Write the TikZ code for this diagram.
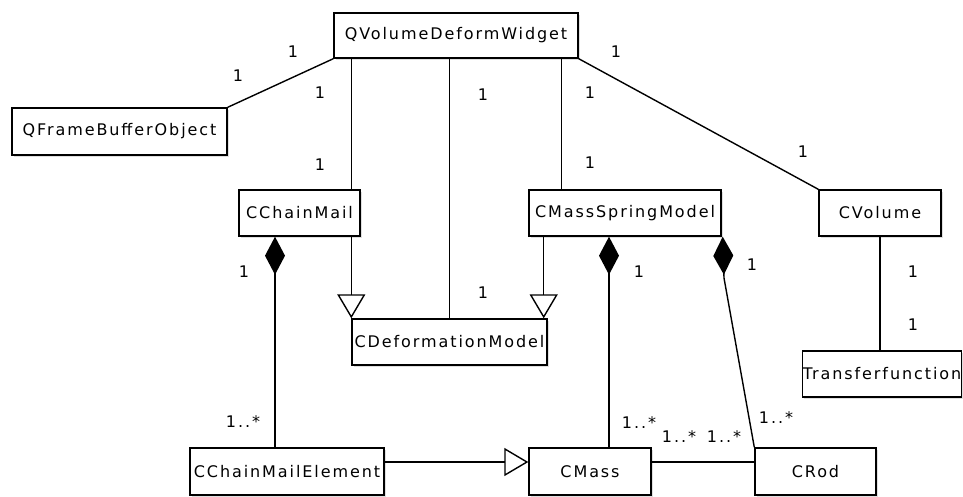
\documentclass[tikz,border=0pt]{standalone}
\usepackage{fontspec}
\newfontfamily\umlfont[LetterSpace=12]{DejaVu Sans}
\usetikzlibrary{arrows.meta,shadows}

\begin{document}
\begin{tikzpicture}[x=1pt, y=-1pt, line width=1.4pt,
    class/.style={draw, fill=white, inner sep=0pt,
      font=\fontsize{16}{19}\umlfont,
      drop shadow={shadow xshift=1.5pt, shadow yshift=-1.5pt, opacity=0.25}},
    mult/.style={inner sep=0pt, font=\fontsize{16}{19}\umlfont},
    inherit/.style={-{Triangle[open, fill=white, length=24pt, width=28pt]}},
    compose/.style={-{Diamond[length=38pt, width=20pt]}}]
    \useasboundingbox (0,0) rectangle (963,496);

    % classes, top row
    \node[class, minimum width=244pt, minimum height=45pt] (QVolumeDeformWidget) at (456,35.5) {QVolumeDeformWidget};
    \node[class, minimum width=215pt, minimum height=47pt] (QFrameBufferObject) at (119.5,131.5) {QFrameBufferObject};

    % classes, middle rows
    \node[class, minimum width=121pt, minimum height=46pt] (CChainMail) at (299.5,213) {CChainMail};
    \node[class, minimum width=192pt, minimum height=46pt] (CMassSpringModel) at (625,213) {CMassSpringModel};
    \node[class, minimum width=122pt, minimum height=46pt] (CVolume) at (880,213) {CVolume};
    \node[class, minimum width=195pt, minimum height=46pt] (CDeformationModel) at (449.5,342) {CDeformationModel};
    \node[class, minimum width=158pt, minimum height=46pt] (Transferfunction) at (882,374) {Transferfunction};

    % classes, bottom row
    \node[class, minimum width=194pt, minimum height=47pt] (CChainMailElement) at (287,471.5) {CChainMailElement};
    \node[class, minimum width=122pt, minimum height=47pt] (CMass) at (590,471.5) {CMass};
    \node[class, minimum width=121pt, minimum height=47pt] (CRod) at (815.5,471.5) {CRod};

    % associations of the widget
    \draw (QVolumeDeformWidget.south west) -- (QFrameBufferObject.north east);
    \draw (QVolumeDeformWidget.south east) -- (CVolume.north west);
    \draw (QVolumeDeformWidget.south -| CDeformationModel.north west) -- (CChainMail.north -| CDeformationModel.north west);
    \draw (QVolumeDeformWidget.south -| CDeformationModel.north) -- (CDeformationModel.north);
    \draw ([xshift=33pt]CMassSpringModel.north west |- QVolumeDeformWidget.south) -- ([xshift=33pt]CMassSpringModel.north west);
    \draw (CVolume.south) -- (CVolume.south |- Transferfunction.north);
    \draw ([yshift=9.5pt]CMass.east) -- ([yshift=9.5pt]CMass.east -| CRod.west);

    % generalizations
    \draw[inherit] (CChainMail.south -| CDeformationModel.north west) -- (CDeformationModel.north west);
    \draw[inherit] ([xshift=-4pt]CDeformationModel.north east |- CMassSpringModel.south) -- ([xshift=-4pt]CDeformationModel.north east);
    \draw[inherit] ([yshift=9.5pt]CChainMailElement.east) -- ([yshift=9.5pt]CChainMailElement.east -| CMass.west);

    % compositions
    \draw[compose] ([xshift=-12pt]CChainMailElement.north) -- ([xshift=-12pt]CChainMailElement.north |- CChainMail.south);
    \draw[compose] ([xshift=19pt]CMass.north) -- ([xshift=19pt]CMass.north |- CMassSpringModel.south);
    \coordinate (rodbend) at (724,278);
    \draw[compose] (CRod.north west) -- (rodbend) -- ([xshift=1pt]CMassSpringModel.south east);

    % multiplicities
    \node[mult] (m1) at (293,52) {1};
    \node[mult] (m2) at (238,76) {1};
    \node[mult] (m3) at (320,93) {1};
    \node[mult] (m4) at (320,165) {1};
    \node[mult] (m5) at (483,95) {1};
    \node[mult] (m6) at (483,293) {1};
    \node[mult] (m7) at (616,52) {1};
    \node[mult] (m8) at (590,93) {1};
    \node[mult] (m9) at (590,163) {1};
    \node[mult] (m10) at (803,152) {1};
    \node[mult] (m11) at (244,272) {1};
    \node[mult] (m12) at (243,422) {1..*};
    \node[mult] (m13) at (639,272) {1};
    \node[mult] (m14) at (639,423) {1..*};
    \node[mult] (m15) at (752,265) {1};
    \node[mult] (m16) at (776,418) {1..*};
    \node[mult] (m17) at (679,437) {1..*};
    \node[mult] (m18) at (724,437) {1..*};
    \node[mult] (m19) at (913,272) {1};
    \node[mult] (m20) at (913,325) {1};
\end{tikzpicture}
\end{document}
